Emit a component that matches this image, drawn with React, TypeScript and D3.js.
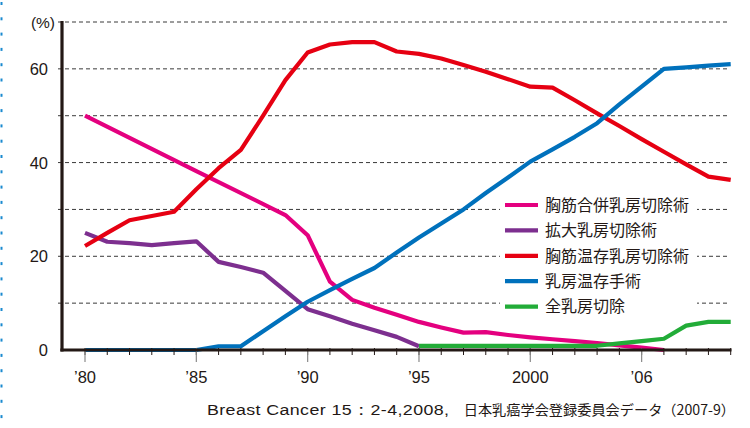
import React from 'react';
import * as d3 from 'd3';

// ---- data ----
const pinkYears = [1980, 1985, 1989, 1990, 1991, 1992, 1993, 1994, 1995, 1996, 1997, 1998, 1999, 2000, 2001, 2002, 2003, 2004, 2005, 2006];
const pinkValues = [50, 38.2, 28.8, 24.5, 14.6, 10.7, 9.0, 7.5, 6.0, 4.8, 3.7, 3.8, 3.2, 2.7, 2.3, 1.9, 1.5, 1.0, 0.5, 0];

const purpleYears = [1980, 1981, 1982, 1983, 1984, 1985, 1986, 1987, 1988, 1989, 1990, 1991, 1992, 1993, 1994, 1995];
const purpleValues = [25, 23.1, 22.8, 22.4, 22.8, 23.2, 18.8, 17.7, 16.5, 12.6, 8.7, 7.2, 5.6, 4.2, 2.8, 0.8];

const redYears = [1980, 1981, 1982, 1983, 1984, 1985, 1986, 1987, 1988, 1989, 1990, 1991, 1992, 1993, 1994, 1995, 1996, 1997, 1998, 1999, 2000, 2001, 2002, 2003, 2004, 2005, 2006, 2007, 2008, 2009];
const redValues = [22.2, 25.0, 27.7, 28.6, 29.5, 34.3, 38.8, 42.7, 50.0, 57.6, 63.5, 65.2, 65.7, 65.7, 63.7, 63.2, 62.2, 60.8, 59.4, 57.8, 56.2, 56.0, 53.3, 50.5, 47.8, 45.0, 42.3, 39.6, 37.0, 36.3];

const blueYears = [1980, 1985, 1986, 1987, 1988, 1989, 1990, 1991, 1992, 1993, 1994, 1995, 1996, 1997, 1998, 1999, 2000, 2001, 2002, 2003, 2004, 2005, 2006, 2007, 2008, 2009];
const blueValues = [0, 0, 0.8, 0.8, 4.0, 7.2, 10.3, 12.8, 15.2, 17.5, 20.8, 24.0, 27.0, 30.0, 33.5, 36.8, 40.2, 42.8, 45.5, 48.4, 52.4, 56.2, 60.0, 60.3, 60.7, 61.0];

const greenYears = [1995, 2003, 2004, 2005, 2006, 2007, 2008, 2009];
const greenValues = [0.9, 0.9, 1.4, 1.9, 2.4, 5.2, 6.0, 6.0];

const seriesNames = ['胸筋合併乳房切除術', '拡大乳房切除術', '胸筋温存乳房切除術', '乳房温存手術', '全乳房切除'];
const seriesColors = ['#e4007f', '#7d2f8f', '#e60012', '#0071bc', '#22ac38'];

const yTickValues = [0, 20, 40, 60];
const gridValues = [10, 20, 30, 40, 50, 60, 70];
const xTickYears = [1980, 1985, 1990, 1995, 2000, 2005];
const xTickLabels = ['’80', '’85', '’90', '’95', '2000', '’06'];

const captionLatin = 'Breast Cancer 15：2-4,2008,';
const captionJa = '日本乳癌学会登録委員会データ（2007-9）';

export default function App() {
  const W = 750, H = 428;
  const x = d3.scaleLinear().domain([1980, 2009]).range([85, 730.7]);
  const y = d3.scaleLinear().domain([0, 70]).range([350, 22]);
  const ink = '#231815';
  const latin = '"Liberation Sans", Arial, Helvetica, sans-serif';
  const cjk = '"Noto Sans CJK JP", "Noto Sans", sans-serif';

  const series = [
    { years: pinkYears, values: pinkValues },
    { years: purpleYears, values: purpleValues },
    { years: redYears, values: redValues },
    { years: blueYears, values: blueValues },
    { years: greenYears, values: greenValues },
  ];
  const line = d3.line<[number, number]>().x(d => x(d[0])).y(d => y(d[1]));
  const minorYears = d3.range(1980, 2010);
  const dots = d3.range(2, H, 15.3);
  const capScale = 1.15;

  return (
    <svg width={W} height={H} style={{ position: 'absolute', left: 0, top: 0, background: '#fff' }}>
      {/* left dotted border */}
      {dots.map((d, i) => (
        <rect key={i} x={0.5} y={d} width={2} height={3} fill="#1a8ad0" />
      ))}
      {/* grid */}
      {gridValues.map(v => (
        <line key={v} x1={58} x2={727} y1={y(v)} y2={y(v)} stroke="#3a3a3a" strokeWidth={1} strokeDasharray="4,3" />
      ))}
      {/* y tick labels */}
      {yTickValues.map(v => (
        <text key={v} x={48} y={y(v)} dy="0.36em" textAnchor="end" fontFamily={latin} fontSize={16.5} fill={ink}>{v}</text>
      ))}
      <text x={55} y={y(70)} dy="0.36em" textAnchor="end" fontFamily={latin} fontSize={15.5} fill={ink}>(%)</text>

      {/* series lines */}
      {series.map((s, i) => (
        <path key={i} d={line(s.years.map((yr, j) => [yr, s.values[j]] as [number, number])) || ''}
          fill="none" stroke={seriesColors[i]} strokeWidth={4.2} strokeLinejoin="round" />
      ))}

      {/* axes */}
      {minorYears.map(yr => (
        <line key={yr} x1={x(yr)} x2={x(yr)} y1={348} y2={355} stroke={ink} strokeWidth={1} />
      ))}
      {xTickYears.map(yr => (
        <line key={'M' + yr} x1={x(yr)} x2={x(yr)} y1={348} y2={362} stroke="#8a8a8a" strokeWidth={1.2} />
      ))}
      <line x1={62} x2={62} y1={21} y2={351.5} stroke={ink} strokeWidth={3.2} />
      <line x1={60.4} x2={731.5} y1={350} y2={350} stroke={ink} strokeWidth={3.2} />
      {xTickYears.map((yr, i) => (
        <text key={'L' + yr} x={x(yr)} y={383} textAnchor="middle" fontFamily={latin} fontSize={16.5} fill={ink}>{xTickLabels[i]}</text>
      ))}

      {/* legend */}
      <rect x={500} y={192} width={197} height={127} fill="#fff" />
      {seriesNames.map((n, i) => (
        <g key={n} transform={`translate(0,${205 + i * 25.4})`}>
          <line x1={505} x2={538} y1={0} y2={0} stroke={seriesColors[i]} strokeWidth={4.2} />
          <text x={545} y={0} dy="0.36em" fontFamily={cjk} fontSize={16} fill={ink}>{n}</text>
        </g>
      ))}

      {/* caption */}
      <g transform={`translate(207,415) scale(${capScale},1)`}>
        <text x={0} y={0} fill={ink} fontSize={15.5} fontFamily={latin} textLength={242 / capScale} lengthAdjust="spacing">{captionLatin}</text>
      </g>
      <text x={735} y={415} textAnchor="end" fill={ink} fontSize={14.2} fontFamily={cjk}>{captionJa}</text>
    </svg>
  );
}
